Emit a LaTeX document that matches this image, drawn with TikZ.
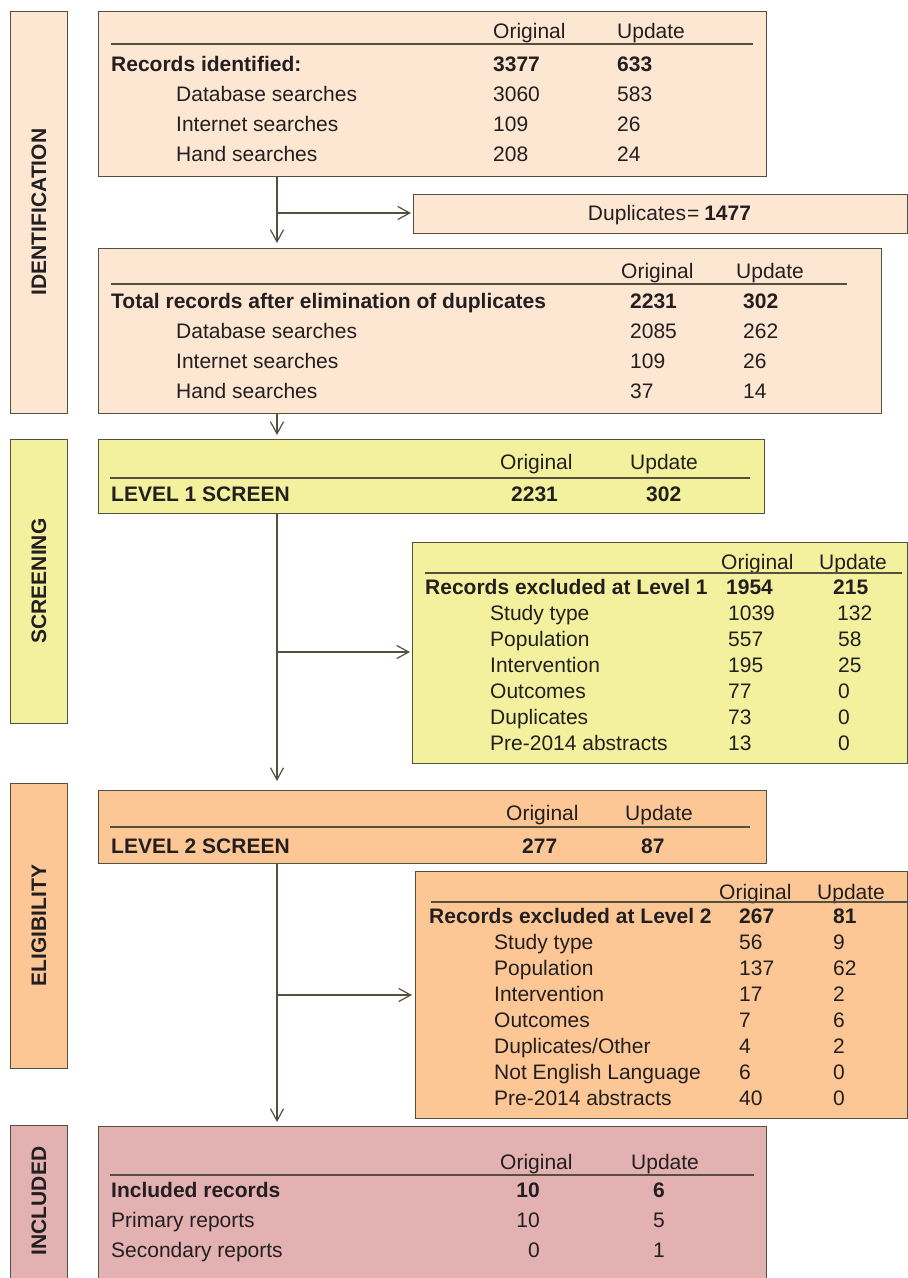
\documentclass[tikz,border=0pt]{standalone}
\usepackage{fontspec}
\setmainfont{Liberation Sans}
\usetikzlibrary{arrows.meta}
\definecolor{linec}{RGB}{84,80,62}
\definecolor{txtc}{RGB}{35,31,32}
\definecolor{idfill}{RGB}{253,230,210}
\definecolor{scfill}{RGB}{243,241,157}
\definecolor{elfill}{RGB}{252,199,149}
\definecolor{infill}{RGB}{227,177,177}
\begin{document}
\begin{tikzpicture}[x=1pt,y=-1pt,
  box/.style={draw=linec, line width=1.2pt, anchor=north west, inner sep=0pt},
  tx/.style={anchor=west, inner sep=0pt, text height=15.2pt, text depth=0pt, text=txtc, font=\fontsize{21}{25}\selectfont},
  tb/.style={tx, font=\fontsize{21}{25}\selectfont\bfseries},
  stagelbl/.style={tb, anchor=center, rotate=90},
  rulel/.style={draw=linec, line width=1.1pt},
  arr/.style={draw=linec, line width=1.2pt, -{Straight Barb[length=12pt,width=13pt]}}]
\useasboundingbox (0,0) rectangle (908,1278);
% stage boxes
\node[box, fill=idfill, minimum width=57pt, minimum height=402pt] (s1) at (10,11) {};
\node[box, fill=scfill, minimum width=57pt, minimum height=284pt] (s2) at (10,439) {};
\node[box, fill=elfill, minimum width=57pt, minimum height=285pt] (s3) at (10,783) {};
\node[box, fill=infill, minimum width=57pt, minimum height=160pt] (s4) at (10,1125) {};
\node[stagelbl] (s1l) at (38.5,212) {IDENTIFICATION};
\node[stagelbl] (s2l) at (38.5,581) {SCREENING};
\node[stagelbl] (s3l) at (38.5,925.5) {ELIGIBILITY};
\node[stagelbl] (s4l) at (38.5,1201) {INCLUDED};
% main boxes
\node[box, fill=idfill, minimum width=668pt, minimum height=165pt] (b1) at (98,11) {};
\node[box, fill=idfill, minimum width=494pt, minimum height=39pt] (dup) at (413,194) {};
\node[box, fill=idfill, minimum width=783pt, minimum height=165pt] (b2) at (98,248) {};
\node[box, fill=scfill, minimum width=666pt, minimum height=74pt] (b3) at (98,439) {};
\node[box, fill=scfill, minimum width=495pt, minimum height=221pt] (ex1) at (412,542) {};
\node[box, fill=elfill, minimum width=668pt, minimum height=73pt] (b4) at (98,790) {};
\node[box, fill=elfill, minimum width=492pt, minimum height=247pt] (ex2) at (415,871) {};
\node[box, fill=infill, minimum width=668pt, minimum height=160pt] (b5) at (98,1126) {};
% connectors
\coordinate (j1) at (277,213);
\coordinate (j2) at (277,652);
\coordinate (j3) at (277,995);
\draw[arr, shorten >=5pt] (b1.south -| j1) -- (b2.north -| j1);
\draw[arr, shorten >=2pt] (j1) -- (dup.west |- j1);
\draw[arr, shorten >=4pt] (b2.south -| j1) -- (b3.north -| j1);
\draw[arr, shorten >=9pt] (b3.south -| j2) -- (b4.north -| j2);
\draw[arr, shorten >=2pt] (j2) -- (ex1.west |- j2);
\draw[arr, shorten >=4pt] (b4.south -| j3) -- (b5.north -| j3);
\draw[arr, shorten >=3pt] (j3) -- (ex2.west |- j3);
% box 1
\node[tx] (h1o) at (493,31) {Original};
\node[tx] (h1u) at (617,31) {Update};
\draw[rulel] (111,44) -- (753,44);
\node[tb] (r1a) at (111,64) {Records identified:};
\node[tb] (r1ao) at (493,64) {3377};
\node[tb] (r1au) at (617,64) {633};
\node[tx] (r1b) at (176,94) {Database searches};
\node[tx] (r1bo) at (493,94) {3060};
\node[tx] (r1bu) at (617,94) {583};
\node[tx] (r1c) at (176,124) {Internet searches};
\node[tx] (r1co) at (493,124) {109};
\node[tx] (r1cu) at (617,124) {26};
\node[tx] (r1d) at (176,154) {Hand searches};
\node[tx] (r1do) at (493,154) {208};
\node[tx] (r1du) at (617,154) {24};
% duplicates
\node[tx, anchor=center] (duptx) at (669.5,213) {Duplicates\kern1pt=\kern5pt\textbf{1477}};
% box 2
\node[tx] (h2o) at (621,271) {Original};
\node[tx] (h2u) at (736,271) {Update};
\draw[rulel] (111,284) -- (847,284);
\node[tb] (r2a) at (111,301) {Total records after elimination of duplicates};
\node[tb] (r2ao) at (630,301) {2231};
\node[tb] (r2au) at (743,301) {302};
\node[tx] (r2b) at (176,331) {Database searches};
\node[tx] (r2bo) at (630,331) {2085};
\node[tx] (r2bu) at (743,331) {262};
\node[tx] (r2c) at (176,361) {Internet searches};
\node[tx] (r2co) at (630,361) {109};
\node[tx] (r2cu) at (743,361) {26};
\node[tx] (r2d) at (176,391) {Hand searches};
\node[tx] (r2do) at (630,391) {37};
\node[tx] (r2du) at (743,391) {14};
% box 3
\node[tx] (h3o) at (500,462) {Original};
\node[tx] (h3u) at (630,462) {Update};
\draw[rulel] (110,478) -- (750,478);
\node[tb] (r3a) at (111,494) {LEVEL 1 SCREEN};
\node[tb] (r3ao) at (511,494) {2231};
\node[tb] (r3au) at (646,494) {302};
% excluded level 1
\node[tx] (h4o) at (721,562) {Original};
\node[tx] (h4u) at (819,562) {Update};
\draw[rulel] (425,573) -- (902,573);
\node[tb] (e1a) at (425,587) {Records excluded at Level 1};
\node[tb] (e1ao) at (726,587) {1954};
\node[tb] (e1au) at (833,587) {215};
\node[tx] (e1b) at (490,613) {Study type};
\node[tx] (e1bo) at (728,613) {1039};
\node[tx] (e1bu) at (837,613) {132};
\node[tx] (e1c) at (490,639) {Population};
\node[tx] (e1co) at (728,639) {557};
\node[tx] (e1cu) at (838,639) {58};
\node[tx] (e1d) at (490,665) {Intervention};
\node[tx] (e1do) at (728,665) {195};
\node[tx] (e1du) at (838,665) {25};
\node[tx] (e1e) at (490,691) {Outcomes};
\node[tx] (e1eo) at (728,691) {77};
\node[tx] (e1eu) at (838,691) {0};
\node[tx] (e1f) at (490,717) {Duplicates};
\node[tx] (e1fo) at (728,717) {73};
\node[tx] (e1fu) at (838,717) {0};
\node[tx] (e1g) at (490,743) {Pre-2014 abstracts};
\node[tx] (e1go) at (728,743) {13};
\node[tx] (e1gu) at (838,743) {0};
% box 4
\node[tx] (h5o) at (506,813) {Original};
\node[tx] (h5u) at (625,813) {Update};
\draw[rulel] (110,827) -- (750,827);
\node[tb] (r4a) at (111,846) {LEVEL 2 SCREEN};
\node[tb] (r4ao) at (522,846) {277};
\node[tb] (r4au) at (641,846) {87};
% excluded level 2
\node[tx] (h6o) at (719,892) {Original};
\node[tx] (h6u) at (817,892) {Update};
\draw[rulel] (431,902) -- (908,902);
\node[tb] (e2a) at (429,916) {Records excluded at Level 2};
\node[tb] (e2ao) at (739,916) {267};
\node[tb] (e2au) at (833,916) {81};
\node[tx] (e2b) at (494,942) {Study type};
\node[tx] (e2bo) at (739,942) {56};
\node[tx] (e2bu) at (833,942) {9};
\node[tx] (e2c) at (494,968) {Population};
\node[tx] (e2co) at (739,968) {137};
\node[tx] (e2cu) at (833,968) {62};
\node[tx] (e2d) at (494,994) {Intervention};
\node[tx] (e2do) at (739,994) {17};
\node[tx] (e2du) at (833,994) {2};
\node[tx] (e2e) at (494,1020) {Outcomes};
\node[tx] (e2eo) at (739,1020) {7};
\node[tx] (e2eu) at (833,1020) {6};
\node[tx] (e2f) at (494,1046) {Duplicates/Other};
\node[tx] (e2fo) at (739,1046) {4};
\node[tx] (e2fu) at (833,1046) {2};
\node[tx] (e2g) at (494,1072) {Not English Language};
\node[tx] (e2go) at (739,1072) {6};
\node[tx] (e2gu) at (833,1072) {0};
\node[tx] (e2h) at (494,1098) {Pre-2014 abstracts};
\node[tx] (e2ho) at (739,1098) {40};
\node[tx] (e2hu) at (833,1098) {0};
% included
\node[tx] (h7o) at (500,1162) {Original};
\node[tx] (h7u) at (631,1162) {Update};
\draw[rulel] (110,1175) -- (754,1175);
\node[tb] (i1) at (111,1190) {Included records};
\node[tb, anchor=east] (i1o) at (540,1190) {10};
\node[tb, anchor=center] (i1u) at (659,1190) {6};
\node[tx] (i2) at (111,1220) {Primary reports};
\node[tx, anchor=east] (i2o) at (540,1220) {10};
\node[tx, anchor=center] (i2u) at (659,1220) {5};
\node[tx] (i3) at (111,1250) {Secondary reports};
\node[tx, anchor=east] (i3o) at (540,1250) {0};
\node[tx, anchor=center] (i3u) at (659,1250) {1};
\end{tikzpicture}
\end{document}
